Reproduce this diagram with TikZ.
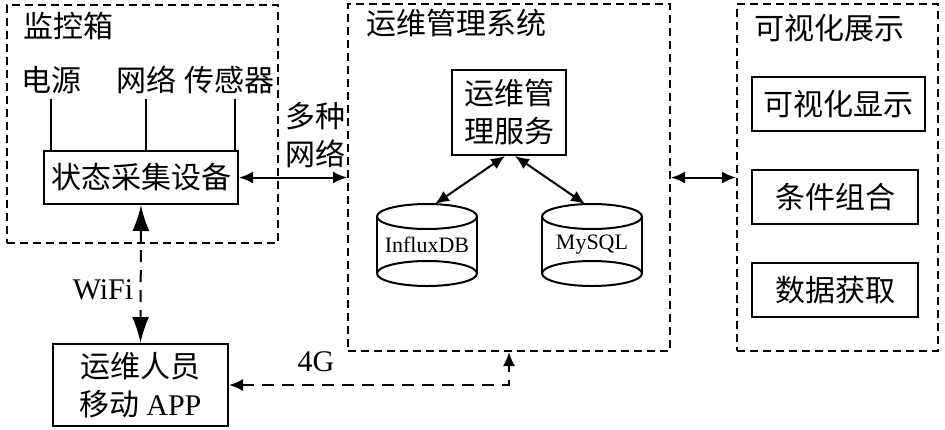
\documentclass[tikz,border=0pt]{standalone}
\usepackage{fontspec}
\setmainfont{Liberation Serif}
\newfontfamily\cjk{Noto Sans CJK SC}
\usetikzlibrary{arrows.meta}

\begin{document}
\begin{tikzpicture}[x=0.5pt,y=-0.5pt,line width=1pt,
    every node/.style={inner sep=2pt,font=\cjk\fontsize{15}{19}\selectfont},
    area/.style={draw,dash pattern=on 4pt off 2.5pt},
    box/.style={draw,align=center},
    db/.style={outer sep=0pt,minimum width=50pt,minimum height=41pt,
      font=\rmfamily\fontsize{11}{12}\selectfont},
    link/.style={{Latex[length=7pt,width=6pt]}-{Latex[length=7pt,width=6pt]}},
    wlink/.style={{Latex[length=13pt,width=8.5pt]}-{Latex[length=13pt,width=8.5pt]}},
    wire/.style={dash pattern=on 6pt off 4pt}]
  \useasboundingbox (0,0) rectangle (945,429);

  % three dashed groups
  \node[area,minimum width=135.5pt,minimum height=119pt] (mon) at (142.5,124) {};
  \node[area,minimum width=161pt,minimum height=173.5pt] (sys) at (509,177.5) {};
  \node[area,minimum width=100.5pt,minimum height=173.5pt] (vis) at (837.5,177.5) {};
  \node[anchor=west] (monT) at (18,26) {监控箱};
  \node[anchor=west] (sysT) at (361,23) {运维管理系统};
  \node[anchor=west] (visT) at (749,28) {可视化展示};

  % monitoring box
  \node (pw) at (51,80) {电源};
  \node (net) at (146,80) {网络};
  \node (sen) at (229,80) {传感器};
  \node[box,minimum width=97pt,minimum height=26.5pt] (col) at (141,177.5) {状态采集设备};
  \draw (pw.south) -- (pw.south |- col.north);
  \draw (net.south) -- (net.south |- col.north);
  \draw ([xshift=3pt]sen.south) -- ([xshift=3pt]sen.south |- col.north);

  % management system
  \node[box,minimum width=57pt,minimum height=42.5pt] (svc) at (509,112.5) {运维管\\理服务};
  \node[db] (idb) at (427,245) {InfluxDB};
  \node[db] (mys) at (592,245) {MySQL};
  \foreach \n in {idb,mys} {
    \draw ([yshift=-6.25pt]\n.north) ellipse [x radius=25pt,y radius=6.25pt];
    \draw ([yshift=6.25pt]\n.south) ellipse [x radius=25pt,y radius=6.25pt];
    \draw ([yshift=-6.25pt]\n.north west) -- ([yshift=6.25pt]\n.south west);
    \draw ([yshift=-6.25pt]\n.north east) -- ([yshift=6.25pt]\n.south east);
  }
  \draw[link] ([xshift=-2pt]svc.south) -- ([xshift=4pt]idb.north);
  \draw[link] ([xshift=3pt]svc.south) -- ([xshift=-3.5pt]mys.north);

  % visualisation
  \node[box,minimum width=86.5pt,minimum height=27pt] (show) at (838.5,104) {可视化显示};
  \node[box,minimum width=83pt,minimum height=27pt] (cond) at (835,197) {条件组合};
  \node[box,minimum width=83pt,minimum height=27pt] (fetch) at (835,290) {数据获取};

  % mobile app
  \node[box,minimum width=87.5pt,minimum height=41pt] (app) at (140.5,385) {运维人员\\移动 {\rmfamily APP}};

  % links between parts
  \draw[link] (col.east) -- (sys.west);
  \draw[link] (sys.east) -- (vis.west);
  \node[align=center] (multi) at (315,135) {多种\\网络};
  \draw[wlink,wire] (col.south) -- (app.north);
  \node[font=\rmfamily\fontsize{15}{18}\selectfont] (wifi) at (103,290) {WiFi};
  \draw[link,wire] (app.east) -- (app.east -| sys.south) -- (sys.south);
  \node[font=\rmfamily\fontsize{15}{18}\selectfont] (g4) at (316,362) {4G};
\end{tikzpicture}
\end{document}
